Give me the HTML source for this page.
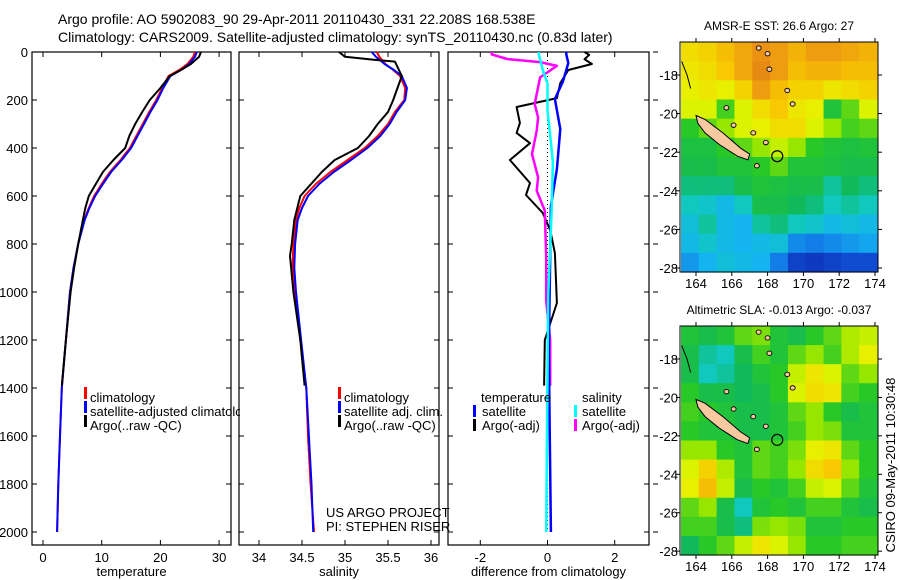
<!DOCTYPE html>
<html><head><meta charset="utf-8"><style>
body{margin:0;background:#fff}
svg{display:block;font-family:"Liberation Sans",sans-serif}
text{fill:#000}
</style></head><body>
<svg id="c" width="900" height="580" viewBox="0 0 900 580">
<defs><clipPath id="legclip"><rect x="0" y="0" width="240" height="580"/></clipPath></defs>
<text x="58" y="24" font-size="14">Argo profile: AO 5902083_90 29-Apr-2011 20110430_331 22.208S 168.538E</text>
<text x="58" y="42" font-size="14">Climatology: CARS2009. Satellite-adjusted climatology: synTS_20110430.nc (0.83d later)</text>
<g id="g"></g>
</svg>
<script>
// ---------- data ----------
const depths = [0,20,50,75,100,150,200,250,300,350,400,450,500,550,600,650,700,800,900,1000,1200,1400,1600,1800,2000];
const tempClim = [25.9,25.6,24.6,23.2,21.4,20.3,19.3,18.1,17.0,15.9,14.8,13.2,11.4,10.0,8.7,7.8,7.0,6.0,5.2,4.6,3.9,3.2,2.9,2.6,2.4];
const tempSat  = [26.2,25.9,24.9,23.5,21.7,20.5,19.5,18.3,17.2,16.1,15.0,13.4,11.6,10.2,8.9,7.9,7.1,6.0,5.2,4.6,3.9,3.2,2.9,2.6,2.4];
const argoDepths = [0,20,50,75,100,150,200,250,300,350,400,450,500,550,600,650,700,800,900,1000,1200,1390];
const tempArgo = [26.9,26.6,25.2,23.5,21.6,20.0,18.2,16.9,15.7,14.7,14.0,12.0,10.2,9.0,7.8,7.2,6.8,6.0,5.3,4.7,3.9,3.2];
const salClim = [35.37,35.40,35.47,35.56,35.64,35.70,35.69,35.58,35.50,35.38,35.23,35.03,34.83,34.66,34.53,34.47,34.43,34.40,34.39,34.42,34.48,34.55,34.57,34.60,34.64];
const salSat  = [35.31,35.36,35.46,35.57,35.66,35.72,35.70,35.60,35.52,35.41,35.26,35.07,34.87,34.70,34.57,34.50,34.45,34.42,34.41,34.43,34.49,34.55,34.58,34.61,34.63];
const salArgoDepths = [0,20,33,40,100,150,200,250,300,350,400,450,500,600,700,800,850,1000,1200,1390];
const salArgo = [34.93,35.00,35.35,35.58,35.66,35.61,35.56,35.50,35.38,35.28,35.15,34.88,34.73,34.48,34.41,34.38,34.36,34.40,34.48,34.53];
const dTempArgoDepths = [0,12,30,50,75,130,192,229,296,337,380,450,546,596,671,742,838,1046,1200,1390];
const dTempArgo = [1.1,1.24,1.1,1.32,0.62,0.38,0.28,-0.92,-0.82,-0.92,-0.52,-1.12,-0.52,-0.64,-0.14,0.08,0.22,0.28,-0.08,-0.1];
const dTempSatDepths = [0,10,46,122,196,321,488,642,1250,2000];
const dTempSat = [0.56,0.56,0.62,0.46,0.22,0.38,0.28,0.1,0.04,0.1];
const dSalArgoDepths = [0,10,29,42,58,106,175,217,272,328,425,522,578,661,856,1036,1200,1390];
const dSalArgo = [-1.66,-1.66,-1.2,-0.22,0.28,-0.22,-0.32,-0.38,-0.28,-0.32,-0.46,-0.28,-0.32,-0.08,-0.04,-0.04,0.08,0.08];
const dSalSatDepths = [0,10,76,131,242,458,680,1010,2000];
const dSalSat = [-0.26,-0.26,-0.14,0,0,0.16,0.12,0.02,-0.04];
const depthTicks = [0,200,400,600,800,1000,1200,1400,1600,1800,2000];
const tempTicks = [0,10,20,30];
const salTicks = [34,34.5,35,35.5,36];
const diffTicks = [-2,0,2];
const lonTicks = [164,166,168,170,172,174];
const latTicks = [-18,-20,-22,-24,-26,-28];
const sstGrid = [
[.68,.70,.74,.78,.82,.80,.76,.80,.80,.78,.76],
[.66,.68,.72,.78,.84,.80,.74,.76,.76,.74,.74],
[.64,.66,.64,.70,.80,.74,.70,.70,.66,.68,.70],
[.62,.62,.50,.62,.68,.72,.66,.64,.46,.52,.62],
[.48,.52,.56,.62,.64,.68,.68,.62,.56,.50,.52],
[.45,.45,.48,.52,.56,.60,.56,.48,.46,.45,.46],
[.44,.44,.46,.46,.48,.52,.46,.46,.45,.44,.44],
[.40,.40,.40,.44,.46,.45,.44,.44,.38,.42,.40],
[.36,.34,.30,.36,.44,.44,.42,.40,.36,.38,.36],
[.32,.38,.30,.28,.38,.40,.36,.34,.30,.32,.30],
[.30,.34,.30,.28,.30,.32,.22,.20,.22,.24,.26],
[.24,.28,.32,.30,.28,.20,.10,.08,.10,.12,.12]];
const slaGrid = [
[.46,.44,.46,.52,.54,.46,.44,.48,.52,.58,.60],
[.44,.38,.36,.44,.50,.46,.52,.56,.50,.58,.64],
[.44,.36,.38,.42,.46,.48,.60,.66,.62,.52,.56],
[.48,.44,.44,.42,.44,.48,.62,.68,.66,.50,.48],
[.50,.48,.46,.44,.44,.46,.52,.56,.48,.44,.46],
[.48,.46,.46,.44,.44,.46,.50,.56,.54,.46,.46],
[.56,.56,.48,.46,.52,.50,.54,.64,.66,.52,.48],
[.62,.70,.58,.46,.52,.50,.56,.68,.72,.56,.48],
[.64,.74,.60,.44,.48,.46,.50,.60,.62,.52,.46],
[.52,.56,.44,.36,.46,.48,.46,.50,.50,.46,.44],
[.50,.50,.44,.40,.54,.56,.54,.46,.46,.48,.48],
[.42,.48,.52,.60,.66,.62,.56,.48,.48,.50,.50]];
const newCaledonia = [[164.0,-20.1],[164.5,-20.3],[165.5,-21.0],[166.5,-21.8],[167.0,-22.1],[166.9,-22.4],[166.3,-22.2],[165.3,-21.6],[164.5,-21.0],[164.1,-20.5]];
const islands = [[167.2,-21.0],[167.9,-21.5],[168.1,-17.7],[169.1,-18.8],[169.4,-19.5],[166.1,-20.6],[167.5,-16.6],[168.0,-16.9],[167.4,-22.7],[165.7,-19.7]];
const floatPos = [168.538,-22.208];

// ---------- helpers ----------
const NS="http://www.w3.org/2000/svg";
const G=document.getElementById('g');
function el(t,a,p){const e=document.createElementNS(NS,t);for(const k in a)e.setAttribute(k,a[k]);(p||G).appendChild(e);return e;}
const yD = d => 52 + d*0.24;
const xT = v => 43 + 5.87*v;
const xS = v => 259 + 86*(v-34);
const xDf = v => 547.5 + 33.6*v;

function panel(x0,x1,name,xTicks,xf,label){
  const r=el('rect',{x:x0,y:52,width:x1-x0,height:493,fill:'none',stroke:'#000','stroke-width':1.2});
  
  
  depthTicks.forEach(d=>{
    const y=yD(d);
    el('line',{x1:x0,y1:y,x2:x0+5,y2:y,stroke:'#000'});
    el('line',{x1:x1,y1:y,x2:x1-5,y2:y,stroke:'#000'});
  });
  xTicks.forEach(v=>{
    const x=xf(v);
    el('line',{x1:x,y1:545,x2:x,y2:540,stroke:'#000'});
    el('line',{x1:x,y1:52,x2:x,y2:57,stroke:'#000'});
    const t=el('text',{x:x,y:562,'font-size':13,'text-anchor':'middle'});t.textContent=String(v);
    
    
  });
  const t=el('text',{x:(x0+x1)/2,y:576,'font-size':13,'text-anchor':'middle'});t.textContent=label;
  
  
}
function line(ds,vs,xf,col,w,name){
  const pts=ds.map((d,i)=>xf(vs[i]).toFixed(1)+','+yD(d).toFixed(1)).join(' ');
  const p=el('polyline',{points:pts,fill:'none',stroke:col,'stroke-width':w,'stroke-linejoin':'round'});
  
  
}
function txt(x,y,s,name,extra){const t=el('text',Object.assign({x:x,y:y,'font-size':13},extra||{}));t.textContent=s;
  
  
  return t;}
function bar(x,y,col){el('rect',{x:x,y:y-11,width:3,height:12,fill:col});}

depthTicks.forEach(d=>{txt(28,yD(d)+5,String(d),'depth-tick-label',{'text-anchor':'end'});});

panel(32,231,'temperature-panel',tempTicks,xT,'temperature');
panel(239,439,'salinity-panel',salTicks,xS,'salinity');
panel(448,649,'difference-panel',diffTicks,xDf,'difference from climatology');
depthTicks.forEach(d=>el('line',{x1:653,y1:yD(d),x2:658,y2:yD(d),stroke:'#000'}));

line(depths,tempClim,xT,'#f00',2,'temp-climatology-line');
line(depths,tempSat,xT,'#00f',2,'temp-satellite-line');
line(argoDepths,tempArgo,xT,'#000',2,'temp-argo-line');
line(depths,salClim,xS,'#f00',2,'sal-climatology-line');
line(depths,salSat,xS,'#00f',2,'sal-satellite-line');
line(salArgoDepths,salArgo,xS,'#000',2,'sal-argo-line');
el('line',{x1:xDf(0),y1:52,x2:xDf(0),y2:530,stroke:'#000','stroke-dasharray':'1,3'});
line(dTempArgoDepths,dTempArgo,xDf,'#000',2,'diff-temp-argo-line');
line(dSalArgoDepths,dSalArgo,xDf,'#f0f',2.5,'diff-sal-argo-line');
line(dTempSatDepths,dTempSat,xDf,'#00f',2.5,'diff-temp-satellite-line');
line(dSalSatDepths,dSalSat,xDf,'#0ff',2.5,'diff-sal-satellite-line');

bar(84,398,'#f00');txt(90,402,'climatology','legend-climatology');
bar(84,412,'#00f');txt(90,416,'satellite-adjusted climatology','legend-satellite-adjusted',{'clip-path':'url(#legclip)'});
bar(84,426,'#000');txt(90,430,'Argo(..raw -QC)','legend-argo');
bar(338,398,'#f00');txt(344,402,'climatology','legend2-climatology');
bar(338,412,'#00f');txt(344,416,'satellite adj. clim.','legend2-satellite');
bar(338,426,'#000');txt(344,430,'Argo(..raw -QC)','legend2-argo');
txt(481,402,'temperature','legend3-temperature-header');
bar(473,416,'#00f');txt(482,416,'satellite','legend3-temp-satellite');
bar(473,430,'#000');txt(482,430,'Argo(-adj)','legend3-temp-argo');
txt(582,402,'salinity','legend3-salinity-header');
bar(574,416,'#0ff');txt(582,416,'satellite','legend3-sal-satellite');
bar(574,430,'#f0f');txt(582,430,'Argo(-adj)','legend3-sal-argo');
txt(326,517,'US ARGO PROJECT','project-label');
txt(326,531,'PI: STEPHEN RISER','pi-label');

// ---------- maps ----------
const stops=[[0,[10,20,150]],[0.15,[16,90,225]],[0.28,[20,180,240]],[0.36,[16,200,190]],[0.42,[16,185,90]],[0.48,[40,200,40]],[0.56,[150,230,0]],[0.63,[230,245,0]],[0.72,[248,200,0]],[0.82,[235,145,20]],[1,[200,80,10]]];
function cmap(v){for(let i=1;i<stops.length;i++){if(v<=stops[i][0]){const a=stops[i-1],b=stops[i],f=(v-a[0])/(b[0]-a[0]);return 'rgb('+a[1].map((c,k)=>Math.round(c+(b[1][k]-c)*f)).join(',')+')';}}return 'rgb(200,80,10)';}
function map(top,bot,grid,title,name){
  const L=681,R=877;
  const xL=lon=>696+17.9*(lon-164);
  const yL=lat=>top+33+19.3*(-18-lat)*((bot-top)/230);
  const rows=grid.length,cols=grid[0].length,cw=(R-L)/cols,ch=(bot-top)/rows;
  grid.forEach((row,r)=>row.forEach((v,c)=>{
    const e=el('rect',{x:(L+c*cw).toFixed(2),y:(top+r*ch).toFixed(2),width:(cw+0.6).toFixed(2),height:(ch+0.6).toFixed(2),fill:cmap(v)});
    
    
  }));
  const nc=el('polygon',{points:newCaledonia.map(p=>xL(p[0]).toFixed(1)+','+yL(p[1]).toFixed(1)).join(' '),fill:'#f8c8a0',stroke:'#000','stroke-width':1});
  
  
  islands.forEach(p=>el('ellipse',{cx:xL(p[0]),cy:yL(p[1]),rx:2.5,ry:2.2,fill:'#f8c8a0',stroke:'#000','stroke-width':0.9}));
  el('polyline',{points:[xL(163.2),yL(-17.3),xL(163.5),yL(-18),xL(163.7),yL(-18.7)].join(' '),fill:'none',stroke:'#000'});
  const fc=el('circle',{cx:xL(floatPos[0]),cy:yL(floatPos[1]),r:5.5,fill:'none',stroke:'#000','stroke-width':1.2});
  
  
  el('rect',{x:L-1,y:top,width:R-L+2,height:bot-top,fill:'none',stroke:'#000'});
  lonTicks.forEach(l=>{const x=xL(l);el('line',{x1:x,y1:bot,x2:x,y2:bot+4,stroke:'#000'});el('line',{x1:x,y1:top,x2:x,y2:top-4,stroke:'#000'});
    txt(x,bot+16,String(l),name+'-lon-label',{'text-anchor':'middle'});});
  latTicks.forEach(l=>{const y=yL(l);el('line',{x1:L-1,y1:y,x2:L-5,y2:y,stroke:'#000'});el('line',{x1:R+1,y1:y,x2:R+5,y2:y,stroke:'#000'});
    txt(L-3,y+5,String(l),name+'-lat-label',{'text-anchor':'end'});});
  txt(779,top-12,title,name+'-title',{'text-anchor':'middle','font-size':12});
}
map(42,272,sstGrid,'AMSR-E SST: 26.6  Argo: 27','sst-map');
map(326,555,slaGrid,'Altimetric SLA: -0.013  Argo: -0.037','sla-map');
txt(0,0,'CSIRO 09-May-2011 10:30:48','timestamp-label',{'text-anchor':'middle',transform:'translate(895,465) rotate(-90)'});
</script>
</body></html>
